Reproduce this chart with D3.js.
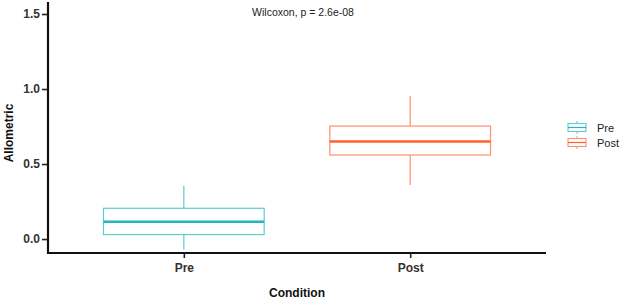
<!DOCTYPE html>
<html lang="en">
<head>
    <meta charset="utf-8">
    <title>Boxplot</title>
    <script src="https://d3js.org/d3.v7.min.js"></script>
    <style>
        body { margin: 0; background: #fff; }
        text { font-family: "Liberation Sans", Arial, sans-serif; }
    </style>
</head>
<body>
<svg width="620" height="300"></svg>
<script>
    // data
    var conditions = ["Pre", "Post"];
    var whiskerLow  = [-0.07, 0.36];
    var q1          = [0.03, 0.56];
    var medians     = [0.115, 0.65];
    var q3          = [0.205, 0.753];
    var whiskerHigh = [0.355, 0.953];
    var yTicks = [0, 0.5, 1.0, 1.5];

    var boxColor = {Pre: "#5ccbd2", Post: "#ff8f72"};
    var medColor = {Pre: "#22b5be", Post: "#ff5f30"};

    var svg = d3.select("svg");
    var plot = {left: 48, right: 546, top: 2, bottom: 253};

    var x = d3.scalePoint().domain(conditions).range([plot.left, plot.right]).padding(0.6);
    var y = d3.scaleLinear().domain([-0.093, 1.58]).range([plot.bottom, plot.top]);
    var boxW = x.step() * 0.71;

    var boxes = conditions.map(function(c, i) {
        return {c: c, lo: whiskerLow[i], q1: q1[i], med: medians[i], q3: q3[i], hi: whiskerHigh[i]};
    });

    var g = svg.append("g");
    var b = g.selectAll("g.box").data(boxes).enter().append("g");
    // whiskers
    b.append("line")
        .attr("x1", function(d){ return x(d.c); }).attr("x2", function(d){ return x(d.c); })
        .attr("y1", function(d){ return y(d.hi); }).attr("y2", function(d){ return y(d.q3); })
        .attr("stroke", function(d){ return boxColor[d.c]; }).attr("stroke-width", 1.2);
    b.append("line")
        .attr("x1", function(d){ return x(d.c); }).attr("x2", function(d){ return x(d.c); })
        .attr("y1", function(d){ return y(d.q1); }).attr("y2", function(d){ return y(d.lo); })
        .attr("stroke", function(d){ return boxColor[d.c]; }).attr("stroke-width", 1.2);
    b.append("rect")
        .attr("x", function(d){ return x(d.c) - boxW / 2; })
        .attr("y", function(d){ return y(d.q3); })
        .attr("width", boxW)
        .attr("height", function(d){ return y(d.q1) - y(d.q3); })
        .attr("fill", "none")
        .attr("stroke", function(d){ return boxColor[d.c]; }).attr("stroke-width", 1.2);
    b.append("line")
        .attr("x1", function(d){ return x(d.c) - boxW / 2; }).attr("x2", function(d){ return x(d.c) + boxW / 2; })
        .attr("y1", function(d){ return y(d.med); }).attr("y2", function(d){ return y(d.med); })
        .attr("stroke", function(d){ return medColor[d.c]; }).attr("stroke-width", 2.4);

    // axes
    var yAxis = d3.axisLeft(y).tickValues(yTicks).tickFormat(d3.format(".1f")).tickSize(6).tickPadding(2);
    var ya = svg.append("g").attr("transform", "translate(" + plot.left + ",0)").call(yAxis);
    ya.select(".domain").remove();
    ya.selectAll(".tick line").attr("stroke", "#222").attr("stroke-width", 1.6);
    ya.selectAll("text").attr("font-size", 12).attr("font-weight", "bold").attr("fill", "#333");
    svg.append("line").attr("x1", plot.left).attr("x2", plot.left).attr("y1", plot.top).attr("y2", plot.bottom + 1)
        .attr("stroke", "#111").attr("stroke-width", 2.2);

    var xAxis = d3.axisBottom(x).tickSize(5).tickPadding(5);
    var xa = svg.append("g").attr("transform", "translate(0," + plot.bottom + ")").call(xAxis);
    xa.select(".domain").remove();
    xa.selectAll(".tick line").attr("stroke", "#222").attr("stroke-width", 1.6);
    xa.selectAll("text").attr("font-size", 12).attr("font-weight", "bold").attr("fill", "#333");
    svg.append("line").attr("x1", plot.left - 1).attr("x2", plot.right).attr("y1", plot.bottom).attr("y2", plot.bottom)
        .attr("stroke", "#111").attr("stroke-width", 2.2);

    // titles
    svg.append("text").attr("x", 297).attr("y", 297).attr("text-anchor", "middle")
        .attr("font-size", 12).attr("font-weight", "bold").attr("fill", "#111").text("Condition");
    svg.append("text").attr("transform", "translate(13,133) rotate(-90)").attr("text-anchor", "middle")
        .attr("font-size", 12).attr("font-weight", "bold").attr("fill", "#111").text("Allometric");
    svg.append("text").attr("x", 303).attr("y", 16).attr("text-anchor", "middle")
        .attr("font-size", 10.5).attr("fill", "#222").text("Wilcoxon, p = 2.6e-08");

    // legend
    var lg = svg.append("g").attr("transform", "translate(568,121)");
    var item = lg.selectAll("g").data(conditions).enter().append("g")
        .attr("transform", function(d, i){ return "translate(0," + (i * 15) + ")"; });
    item.append("line").attr("x1", 9).attr("x2", 9).attr("y1", 0).attr("y2", 13)
        .attr("stroke", function(d){ return boxColor[d]; }).attr("stroke-width", 1);
    item.append("rect").attr("x", 0).attr("y", 2.5).attr("width", 18).attr("height", 8)
        .attr("fill", "#fff").attr("stroke", function(d){ return boxColor[d]; }).attr("stroke-width", 1.1);
    item.append("line").attr("x1", 0).attr("x2", 18).attr("y1", 6.5).attr("y2", 6.5)
        .attr("stroke", function(d){ return medColor[d]; }).attr("stroke-width", 1.2);
    item.append("text").attr("x", 29).attr("y", 11).attr("font-size", 11).attr("fill", "#222")
        .text(function(d){ return d; });
</script>
</body>
</html>
